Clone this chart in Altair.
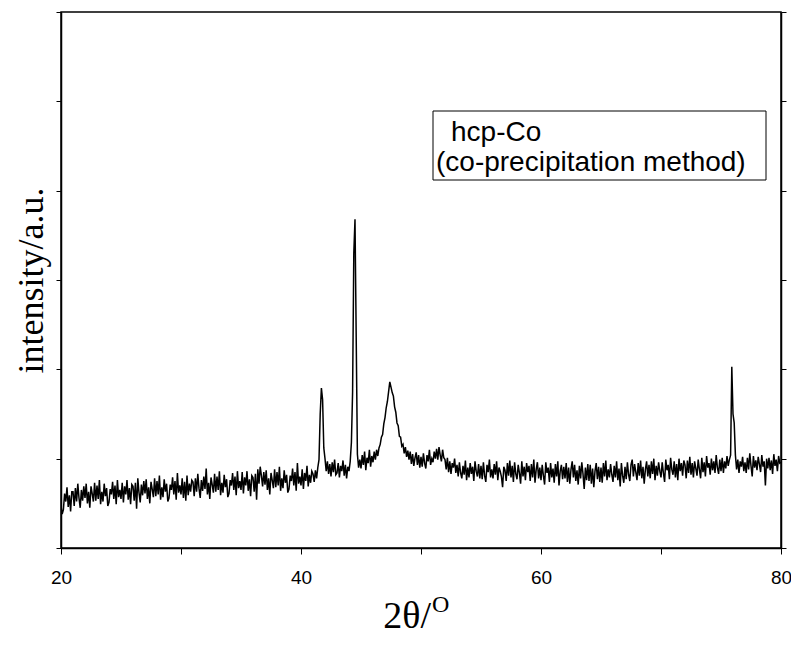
import altair as alt
import pandas as pd
import numpy as np

# 2-theta scan, 0.1 degree steps from 20.0 to 80.0
two_theta_start = 20.0
two_theta_step = 0.1

# intensity (arbitrary units, 100 per axis tick), one row per degree
intensity = [
    47, 38, 43, 61, 52, 68, 46, 59, 41, 63,   # 20
    63, 47, 67, 52, 72, 56, 45, 65, 53, 69,   # 21
    56, 72, 50, 63, 45, 69, 61, 52, 73, 53,   # 22
    70, 55, 76, 49, 63, 52, 72, 58, 67, 47,   # 23
    51, 66, 60, 74, 55, 70, 49, 76, 57, 65,   # 24
    55, 73, 51, 69, 60, 76, 54, 67, 49, 71,   # 25
    69, 53, 73, 44, 78, 62, 51, 71, 59, 75,   # 26
    61, 77, 55, 68, 50, 74, 66, 57, 78, 58,   # 27
    75, 60, 81, 54, 68, 57, 77, 63, 72, 52,   # 28
    56, 71, 65, 79, 60, 75, 54, 84, 62, 70,   # 29
    60, 78, 56, 74, 53, 81, 59, 72, 63, 76,   # 30
    74, 58, 78, 63, 83, 67, 56, 76, 64, 80,   # 31
    66, 89, 60, 73, 55, 79, 71, 62, 83, 63,   # 32
    80, 65, 86, 59, 73, 62, 82, 68, 77, 57,   # 33
    61, 76, 70, 84, 65, 80, 59, 86, 67, 75,   # 34
    65, 85, 61, 79, 70, 86, 64, 77, 58, 81,   # 35
    79, 63, 83, 54, 88, 72, 91, 81, 69, 85,   # 36
    71, 87, 65, 78, 60, 84, 76, 67, 88, 68,   # 37
    85, 70, 91, 64, 78, 67, 87, 73, 82, 62,   # 38
    66, 81, 75, 89, 70, 85, 64, 95, 72, 80,   # 39
    70, 88, 66, 84, 75, 92, 69, 82, 73, 86,   # 40
    83, 74, 87, 78, 90, 99, 150, 179, 166, 112,  # 41
    100, 86, 97, 83, 94, 80, 96, 85, 99, 82,  # 42
    84, 95, 79, 92, 86, 98, 81, 93, 78, 91,   # 43
    86, 97, 118, 175, 330, 368, 236, 105, 90, 99,  # 44
    89, 104, 93, 108, 87, 101, 95, 110, 91, 103,  # 45
    96, 108, 99, 110, 103, 112, 116, 124, 127, 139,  # 46
    146, 157, 164, 175, 186, 180, 174, 170, 158, 152,  # 47
    140, 137, 125, 124, 114, 116, 106, 113, 102, 109,  # 48
    99, 108, 94, 105, 92, 101, 107, 93, 104, 90,  # 49
    102, 91, 106, 95, 89, 104, 97, 110, 93, 100,  # 50
    96, 108, 100, 111, 99, 113, 104, 97, 110, 101,  # 51
    99, 88, 101, 85, 97, 83, 95, 90, 100, 84,  # 52
    93, 80, 96, 84, 78, 92, 82, 98, 76, 90,   # 53
    79, 95, 83, 91, 75, 97, 86, 80, 94, 78,   # 54
    92, 77, 96, 81, 74, 93, 85, 99, 79, 88,   # 55
    78, 94, 82, 97, 76, 90, 86, 80, 68, 91,   # 56
    87, 75, 95, 81, 98, 79, 92, 74, 96, 83,   # 57
    77, 93, 84, 72, 97, 80, 91, 76, 95, 85,   # 58
    92, 75, 94, 79, 99, 73, 88, 96, 78, 90,   # 59
    76, 93, 81, 71, 96, 84, 90, 74, 95, 79,   # 60
    89, 73, 94, 80, 97, 70, 86, 93, 77, 91,   # 61
    78, 95, 74, 90, 72, 88, 97, 79, 93, 75,   # 62
    87, 71, 92, 78, 96, 83, 66, 90, 76, 94,   # 63
    75, 93, 72, 89, 68, 86, 95, 77, 91, 74,   # 64
    90, 73, 95, 80, 98, 76, 88, 79, 94, 82,   # 65
    74, 92, 79, 97, 76, 89, 69, 95, 81, 73,   # 66
    91, 77, 96, 82, 75, 93, 99, 80, 94, 85,   # 67
    76, 95, 81, 98, 78, 91, 72, 88, 97, 80,   # 68
    93, 78, 97, 83, 100, 76, 92, 81, 96, 86,  # 69
    79, 96, 84, 74, 99, 87, 93, 77, 101, 88,  # 70
    82, 97, 79, 94, 76, 100, 86, 95, 81, 98,  # 71
    93, 78, 98, 84, 102, 82, 95, 79, 97, 89,  # 72
    81, 99, 88, 78, 101, 85, 96, 80, 103, 90,  # 73
    95, 82, 100, 87, 97, 84, 104, 90, 83, 99,  # 74
    86, 101, 84, 97, 89, 103, 92, 99, 104, 203,  # 75
    150, 140, 104, 88, 99, 84, 97, 91, 102, 86,  # 76
    96, 84, 101, 88, 106, 92, 80, 103, 90, 98,  # 77
    87, 102, 94, 85, 104, 91, 97, 70, 100, 89,  # 78
    101, 87, 98, 83, 105, 92, 99, 86, 103, 95,  # 79
    96,                                       # 80
]

two_theta = np.round(two_theta_start + two_theta_step * np.arange(len(intensity)), 2)
df = pd.DataFrame({"two_theta": two_theta, "intensity": intensity})

x_ticks = [20, 30, 40, 50, 60, 70, 80]
y_ticks = [0, 100, 200, 300, 400, 500, 600]

legend_lines = ["hcp-Co", "(co-precipitation method)"]

W, H = 720, 536

x_scale = alt.Scale(domain=[20, 80], nice=False, zero=False)
y_scale = alt.Scale(domain=[0, 600], nice=False, zero=False)

x_axis = alt.Axis(
    values=x_ticks,
    labelExpr="datum.value % 20 == 0 ? datum.label : ''",
    title=None,
    grid=False,
    tickSize=6,
    tickColor="black",
    tickWidth=1,
    domainColor="black",
    domainWidth=1.5,
    labelFont="Liberation Sans",
    labelFontSize=19,
    labelColor="black",
    labelPadding=14,
    labelOverlap=False,
    labelFlush=False,
)

base = alt.Chart(df)

line = base.mark_line(color="black", strokeWidth=1.5, clip=True).encode(
    x=alt.X("two_theta:Q", scale=x_scale, axis=x_axis),
    y=alt.Y(
        "intensity:Q",
        scale=y_scale,
        axis=alt.Axis(
            values=y_ticks,
            labels=False,
            title="intensity/a.u.",
            titleFont="Liberation Serif",
            titleFontSize=36,
            titleFontWeight="normal",
            titleColor="black",
            titleAngle=270,
            titleAlign="center",
            titleBaseline="middle",
            titleX=-30,
            titleY=H / 2,
            grid=False,
            tickSize=5,
            tickColor="black",
            domainColor="black",
            domainWidth=1.5,
        ),
    ),
)

right_axis = base.mark_line(opacity=0).encode(
    x=alt.X("two_theta:Q", scale=x_scale, axis=x_axis),
    y=alt.Y(
        "intensity:Q",
        scale=y_scale,
        axis=alt.Axis(
            orient="right",
            values=y_ticks,
            labels=False,
            title=None,
            grid=False,
            tickSize=5,
            tickColor="black",
            domainColor="black",
            domainWidth=1.5,
        ),
    ),
)

legend_box = alt.Chart(pd.DataFrame({"k": [0]})).mark_rect(
    fill="white", stroke="black", strokeWidth=1
).encode(
    x=alt.value(372), x2=alt.value(705), y=alt.value(99), y2=alt.value(168)
)

legend_df = pd.DataFrame({"text": legend_lines, "px": [390, 375], "py": [129, 159]})
legend_text = alt.Chart(legend_df).mark_text(
    font="Liberation Sans", fontSize=28, align="left", baseline="alphabetic", color="black"
).encode(
    text="text:N",
    x=alt.X("px:Q", scale=None),
    y=alt.Y("py:Q", scale=None),
)

xtitle_df = pd.DataFrame({"text": ["2θ/"], "px": [370], "py": [616]})
xtitle = alt.Chart(xtitle_df).mark_text(
    font="Liberation Serif", fontSize=38, align="right", baseline="alphabetic", color="black"
).encode(text="text:N", x=alt.X("px:Q", scale=None), y=alt.Y("py:Q", scale=None))

xsup_df = pd.DataFrame({"text": ["O"], "px": [371], "py": [600]})
xsup = alt.Chart(xsup_df).mark_text(
    font="Liberation Serif", fontSize=24, align="left", baseline="alphabetic", color="black"
).encode(text="text:N", x=alt.X("px:Q", scale=None), y=alt.Y("py:Q", scale=None))

chart = (
    alt.layer(line, right_axis, legend_box, legend_text, xtitle, xsup)
    .resolve_axis(y="independent")
    .properties(
        width=W,
        height=H,
        autosize=alt.AutoSizeParams(type="none"),
        padding={"left": 53, "top": 4, "right": 10, "bottom": 92},
        background="white",
    )
    .configure_view(stroke="black", strokeWidth=1.5)
)

chart.save("out.html", embed_options={"renderer": "svg", "actions": False})
